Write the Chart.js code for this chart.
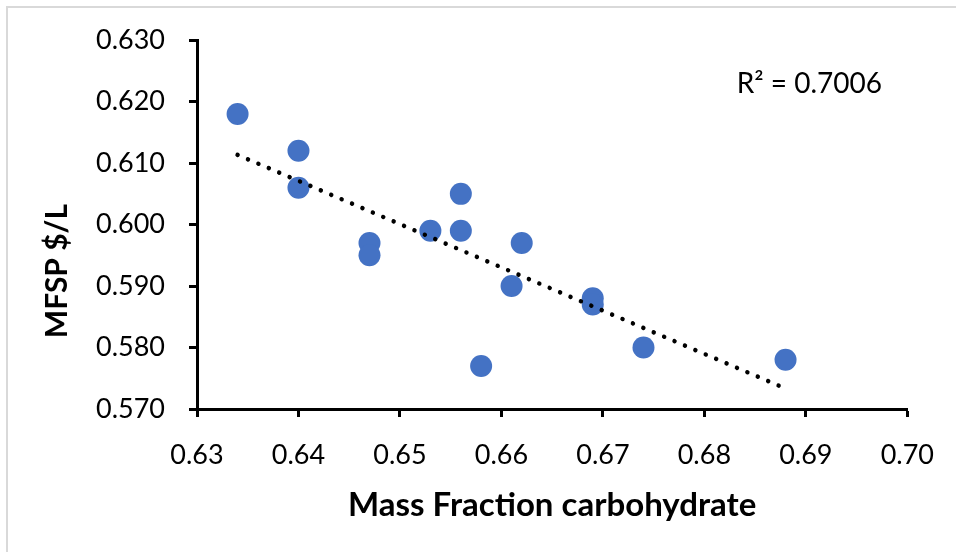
<!DOCTYPE html>
<html>
<head>
<meta charset="utf-8">
<script src="https://cdn.jsdelivr.net/npm/chart.js@4.4.1/dist/chart.umd.min.js"></script>
<style>
    body { margin: 0; background: #fff; overflow: hidden; }
    #wrap { position: relative; width: 956px; height: 552px; }
    #frame { position: absolute; left: 6px; top: 6px; width: 980px; height: 580px; border: 2px solid #d9d9d9; }
    canvas { position: absolute; left: 0; top: 0; }
</style>
</head>
<body>
<div id="wrap">
    <div id="frame"></div>
    <canvas id="mfspChart" width="956" height="552"></canvas>
</div>
<script>
// carbohydrate mass fraction vs minimum fuel selling price
const carbFraction = [0.634, 0.640, 0.640, 0.647, 0.647, 0.653, 0.656, 0.656, 0.658, 0.661, 0.662, 0.669, 0.669, 0.674, 0.688];
const mfsp = [0.618, 0.612, 0.606, 0.597, 0.595, 0.599, 0.605, 0.599, 0.577, 0.590, 0.597, 0.588, 0.587, 0.580, 0.578];
const xTicks = [0.63, 0.64, 0.65, 0.66, 0.67, 0.68, 0.69, 0.70];
const yTicks = [0.570, 0.580, 0.590, 0.600, 0.610, 0.620, 0.630];
const rSquaredLabel = 'R\u00b2 = 0.7006';

const FONT = 'Lato';

// least squares trendline over the points
function linearFit(xs, ys) {
    const n = xs.length;
    const mx = xs.reduce((a, b) => a + b, 0) / n;
    const my = ys.reduce((a, b) => a + b, 0) / n;
    let sxy = 0, sxx = 0;
    xs.forEach((x, i) => {
        sxy += (x - mx) * (ys[i] - my);
        sxx += (x - mx) * (x - mx);
    });
    const slope = sxy / sxx;
    return { slope: slope, intercept: my - slope * mx };
}

const fit = linearFit(carbFraction, mfsp);
const xMin = Math.min(...carbFraction);
const xMax = Math.max(...carbFraction);
const trendPoints = [xMin, xMax].map(x => ({ x: x, y: fit.intercept + fit.slope * x }));
const scatterPoints = carbFraction.map((x, i) => ({ x: x, y: mfsp[i] }));

// y title is centred on the whole canvas, plus the R² note
const extraText = {
    id: 'extraText',
    afterDraw(chart) {
        const ctx = chart.ctx;
        ctx.save();
        ctx.fillStyle = '#000';
        ctx.font = 'bold 30px ' + FONT;
        ctx.textAlign = 'center';
        ctx.textBaseline = 'middle';
        ctx.translate(57, 271);
        ctx.rotate(-Math.PI / 2);
        ctx.fillText('MFSP $/L', 0, 0);
        ctx.restore();

        ctx.save();
        ctx.fillStyle = '#000';
        ctx.font = '28px ' + FONT;
        ctx.textAlign = 'right';
        ctx.textBaseline = 'middle';
        ctx.fillText(rSquaredLabel, 882, 84);
        ctx.restore();
    }
};

new Chart(document.getElementById('mfspChart'), {
    type: 'scatter',
    data: {
        datasets: [
            {
                label: 'Linear trend',
                data: trendPoints,
                showLine: true,
                pointRadius: 0,
                borderColor: '#000',
                borderWidth: 4.5,
                borderDash: [0.01, 11.3],
                borderCapStyle: 'round',
                order: 0
            },
            {
                label: 'MFSP',
                data: scatterPoints,
                pointRadius: 11,
                pointBackgroundColor: '#4472C4',
                pointBorderWidth: 0,
                order: 1
            }
        ]
    },
    options: {
        responsive: false,
        animation: false,
        layout: { padding: { left: 0, top: 40, right: 47, bottom: 0 } },
        plugins: {
            legend: { display: false },
            tooltip: { enabled: false }
        },
        scales: {
            x: {
                type: 'linear',
                min: xTicks[0],
                max: xTicks[xTicks.length - 1],
                afterBuildTicks: scale => { scale.ticks = xTicks.map(v => ({ value: v })); },
                afterFit: scale => { scale.height = 143; },
                grid: { drawOnChartArea: false, drawTicks: true, tickLength: 8, tickWidth: 3, tickColor: '#000' },
                border: { color: '#000', width: 3 },
                ticks: {
                    color: '#000',
                    padding: 22,
                    maxRotation: 0,
                    font: { family: FONT, size: 27 },
                    callback: v => Number(v).toFixed(2)
                },
                title: {
                    display: true,
                    text: 'Mass Fraction carbohydrate',
                    color: '#000',
                    font: { family: FONT, size: 33, weight: 'bold' },
                    padding: { top: 0, bottom: 27 }
                }
            },
            y: {
                type: 'linear',
                min: yTicks[0],
                max: yTicks[yTicks.length - 1],
                afterBuildTicks: scale => { scale.ticks = yTicks.map(v => ({ value: v })); },
                afterFit: scale => { scale.width = 197; },
                grid: { drawOnChartArea: false, drawTicks: true, tickLength: 8, tickWidth: 3, tickColor: '#000' },
                border: { color: '#000', width: 3 },
                ticks: {
                    color: '#000',
                    padding: 24,
                    font: { family: FONT, size: 27 },
                    callback: v => Number(v).toFixed(3)
                }
            }
        }
    },
    plugins: [extraText]
});
</script>
</body>
</html>
